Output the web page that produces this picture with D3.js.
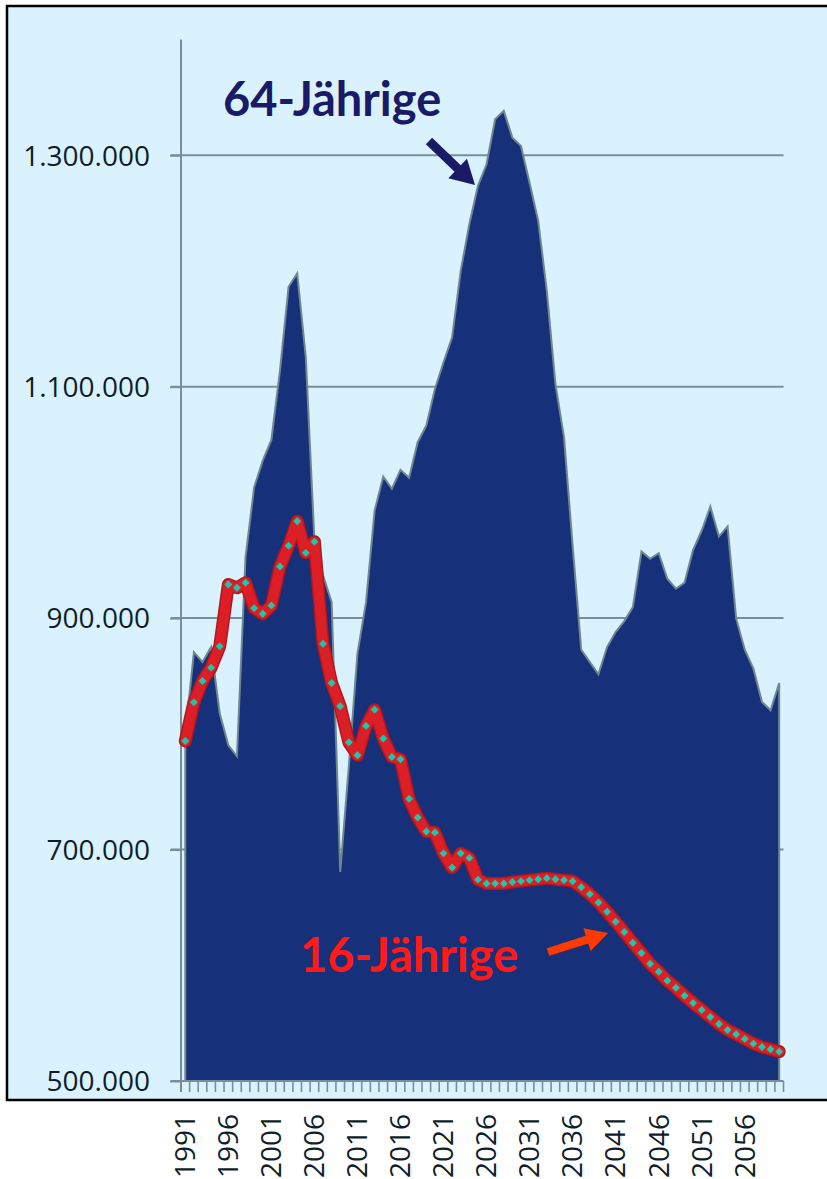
<!DOCTYPE html>
<html lang="de">
<head>
<meta charset="utf-8">
<title>16- und 64-Jährige 1991–2060</title>
<script src="https://cdn.jsdelivr.net/npm/d3@7"></script>
<style>
  html, body { margin: 0; padding: 0; background: #ffffff; }
  svg { display: block; }
</style>
</head>
<body>
<svg id="chart" width="827" height="1179"></svg>
<script>
// Jahrgänge (Kategorien der x-Achse)
const years = [
  1991, 1992, 1993, 1994, 1995, 1996, 1997, 1998, 1999, 2000,
  2001, 2002, 2003, 2004, 2005, 2006, 2007, 2008, 2009, 2010,
  2011, 2012, 2013, 2014, 2015, 2016, 2017, 2018, 2019, 2020,
  2021, 2022, 2023, 2024, 2025, 2026, 2027, 2028, 2029, 2030,
  2031, 2032, 2033, 2034, 2035, 2036, 2037, 2038, 2039, 2040,
  2041, 2042, 2043, 2044, 2045, 2046, 2047, 2048, 2049, 2050,
  2051, 2052, 2053, 2054, 2055, 2056, 2057, 2058, 2059, 2060
];

// Anzahl der 64-Jährigen
const age64 = [
  800000, 870600, 862000, 875000, 817500, 790100, 780600, 952700, 1013100, 1036100,
  1054000, 1113800, 1186300, 1197800, 1125300, 967000, 937000, 913800, 680700, 772000,
  869300, 913800, 993000, 1022300, 1011700, 1028100, 1021200, 1052000, 1066300, 1098000,
  1121000, 1142600, 1200100, 1240400, 1273500, 1292200, 1331100, 1338300, 1315200, 1308000,
  1276000, 1243300, 1182900, 1102300, 1056200, 962700, 872700, 862000, 851400, 875000,
  887900, 897400, 909500, 957600, 951300, 956100, 934000, 925400, 930600, 959000,
  975700, 996400, 970500, 979200, 899500, 872700, 856300, 827500, 820300, 843900
];

// Anzahl der 16-Jährigen
const age16 = [
  793800, 827200, 845600, 857200, 875600, 929100, 926200, 930500, 908600, 903800,
  911000, 944600, 962500, 983700, 956400, 966000, 877900, 843900, 823800, 792700,
  781500, 806800, 820900, 795900, 780000, 778000, 743800, 727700, 715600, 714800,
  696700, 684500, 696700, 692800, 674000, 670700, 670700, 670700, 671900, 672700,
  673600, 674400, 675300, 674400, 673600, 672700, 667500, 661500, 654300, 646200,
  637600, 628700, 619500, 610600, 601300, 594400, 586700, 580600, 573700, 567400,
  561400, 555300, 549300, 544100, 540400, 536400, 532300, 529400, 527400, 525400
];

// Beschriftete Jahre und Werte der Achsen
const xTickLabels = [1991, 1996, 2001, 2006, 2011, 2016, 2021, 2026, 2031, 2036, 2041, 2046, 2051, 2056];
const yTickValues = [500000, 700000, 900000, 1100000, 1300000];
const yDomain = [500000, 1400000];

const svg = d3.select("#chart");

// Plotbereich
const plotLeft = 181, plotRight = 783.5, plotTop = 39.5, plotBottom = 1081;

const de = d3.formatLocale({ decimal: ",", thousands: ".", grouping: [3], currency: ["", " €"] });
const fmt = de.format(",.0f");

const x = d3.scaleBand().domain(years).range([plotLeft, plotRight]).paddingInner(0).paddingOuter(0);
const xc = d => x(d) + x.bandwidth() / 2;
const y = d3.scaleLinear().domain(yDomain).range([plotBottom, plotTop]);

// Hintergrund mit Rahmen
svg.append("rect")
  .attr("x", 7).attr("y", 6).attr("width", 840).attr("height", 1094)
  .attr("fill", "#d9f2fe").attr("stroke", "#000000").attr("stroke-width", 2.5);

const axisColor = "#7a8e98";

// Gitterlinien
svg.append("g").selectAll("line").data(yTickValues.slice(1)).join("line")
  .attr("x1", plotLeft - 10).attr("x2", plotRight)
  .attr("y1", d => y(d)).attr("y2", d => y(d))
  .attr("stroke", axisColor).attr("stroke-width", 2);

// Fläche: 64-Jährige
const rows = years.map((yr, i) => ({ yr, a64: age64[i], a16: age16[i] }));

svg.append("path")
  .datum(rows)
  .attr("d", d3.area().x(d => xc(d.yr)).y0(y(yDomain[0])).y1(d => y(d.a64)))
  .attr("fill", "#16307a")
  .attr("stroke", "#6f8791").attr("stroke-width", 2).attr("stroke-linejoin", "miter");

// y-Achse
const yAxis = d3.axisLeft(y).tickValues(yTickValues).tickSize(11).tickFormat(fmt);
const gy = svg.append("g").attr("transform", `translate(${plotLeft},0)`).call(yAxis);
gy.select(".domain").attr("stroke", axisColor).attr("stroke-width", 2)
  .attr("d", `M0,${plotTop}V${plotBottom + 11}`);
gy.selectAll(".tick line").attr("stroke", axisColor).attr("stroke-width", 2);
gy.selectAll(".tick text")
  .attr("x", -31).attr("dy", "0.35em")
  .attr("fill", "#0e1e2a")
  .style("font-family", "'Open Sans', 'Liberation Sans', sans-serif")
  .style("font-size", "28px");

// x-Achse: Grundlinie und Teilstriche an den Kategoriegrenzen
const gx = svg.append("g");
gx.append("line")
  .attr("x1", plotLeft - 10).attr("x2", plotRight)
  .attr("y1", plotBottom).attr("y2", plotBottom)
  .attr("stroke", axisColor).attr("stroke-width", 2);
const boundaries = years.map(yr => x(yr)).concat([plotRight]);
gx.selectAll("line.tk").data(boundaries).join("line")
  .attr("class", "tk")
  .attr("x1", d => d).attr("x2", d => d)
  .attr("y1", plotBottom).attr("y2", plotBottom + 11)
  .attr("stroke", axisColor).attr("stroke-width", 1.6);

// Jahreszahlen, senkrecht
gx.selectAll("text").data(xTickLabels).join("text")
  .attr("transform", d => `translate(${xc(d)},1114) rotate(-90)`)
  .attr("text-anchor", "end")
  .attr("dy", "0.35em")
  .attr("fill", "#0e1e2a")
  .style("font-family", "'Open Sans', 'Liberation Sans', sans-serif")
  .style("font-size", "28px")
  .text(d => d);

// Linie: 16-Jährige
const line16 = d3.line().x(d => xc(d.yr)).y(d => y(d.a16));
svg.append("path").datum(rows)
  .attr("d", line16).attr("fill", "none")
  .attr("stroke", "#b3161d").attr("stroke-width", 13)
  .attr("stroke-linejoin", "round").attr("stroke-linecap", "round");
svg.append("path").datum(rows)
  .attr("d", line16).attr("fill", "none")
  .attr("stroke", "#dc1f27").attr("stroke-width", 10)
  .attr("stroke-linejoin", "round").attr("stroke-linecap", "round");

// Markierungen
svg.append("g").selectAll("path").data(rows).join("path")
  .attr("d", d3.symbol().type(d3.symbolDiamond2).size(40))
  .attr("transform", d => `translate(${xc(d.yr)},${y(d.a16)})`)
  .attr("fill", "#1fc7a8");

// Beschriftungen mit Pfeilen
function arrow(x0, y0, x1, y1, shaft, headLen, headW, color) {
  const dx = x1 - x0, dy = y1 - y0, L = Math.hypot(dx, dy);
  const ux = dx / L, uy = dy / L, nx = -uy, ny = ux;
  const bx = x1 - ux * headLen, by = y1 - uy * headLen;
  const pts = [
    [x0 + nx * shaft / 2, y0 + ny * shaft / 2],
    [bx + nx * shaft / 2, by + ny * shaft / 2],
    [bx + nx * headW / 2, by + ny * headW / 2],
    [x1, y1],
    [bx - nx * headW / 2, by - ny * headW / 2],
    [bx - nx * shaft / 2, by - ny * shaft / 2],
    [x0 - nx * shaft / 2, y0 - ny * shaft / 2]
  ];
  svg.append("path").attr("d", "M" + pts.join("L") + "Z").attr("fill", color);
}

svg.append("text")
  .attr("x", 223).attr("y", 116)
  .attr("fill", "#1b1a66")
  .style("font-family", "Lato, 'Open Sans', sans-serif")
  .style("font-weight", "700").style("font-size", "47px")
  .text("64-Jährige");
arrow(429, 141, 475, 185, 9, 24, 27, "#1b1a66");

svg.append("text")
  .attr("x", 300).attr("y", 972)
  .attr("fill", "#ff1a1a")
  .style("font-family", "Lato, 'Open Sans', sans-serif")
  .style("font-weight", "700").style("font-size", "47px")
  .text("16-Jährige");
arrow(548, 952, 608, 933, 8, 22, 24, "#ff3a00");
</script>
</body>
</html>
